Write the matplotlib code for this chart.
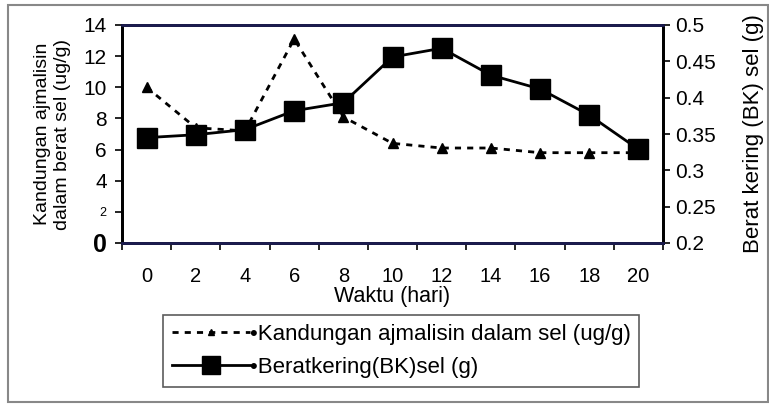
import matplotlib.pyplot as plt
import numpy as np
from matplotlib.patches import Rectangle
from matplotlib.lines import Line2D

plt.rcParams['font.family'] = ['Liberation Sans', 'DejaVu Sans']

# data
hari = ['0', '2', '4', '6', '8', '10', '12', '14', '16', '18', '20']
ajmalisin = [10.0, 7.4, 7.2, 13.1, 8.1, 6.4, 6.1, 6.1, 5.8, 5.8, 5.8]
berat_kering = [0.345, 0.349, 0.356, 0.382, 0.393, 0.456, 0.468, 0.431, 0.412, 0.376, 0.329]

kiri_ticks = [0, 2, 4, 6, 8, 10, 12, 14]
kanan_ticks = [0.2, 0.25, 0.3, 0.35, 0.4, 0.45, 0.5]
kanan_labels = ['0.2', '0.25', '0.3', '0.35', '0.4', '0.45', '0.5']

fig = plt.figure(figsize=(7.69, 4.04), dpi=100)
ax = fig.add_axes([122/769, 1-243/404, (663-122)/769, (243-25)/404])
ax2 = ax.twinx()

x = np.arange(len(hari))
ax.plot(x, ajmalisin, color='black', linestyle=(0, (2.2, 2.2)), linewidth=2,
        marker='^', markersize=7, zorder=3)
ax2.plot(x, berat_kering, color='black', linestyle='-', linewidth=2,
         marker='s', markersize=14, zorder=3)

ax.set_xlim(-0.5, len(hari) - 0.5)
ax.set_ylim(0, 14)
ax2.set_ylim(0.2, 0.5)

# category axis: labels centred, tick marks between categories
ax.set_xticks(x)
ax.set_xticklabels(hari, fontsize=14.5)
ax.tick_params(axis='x', which='major', length=0, pad=17)
ax.set_xticks(np.arange(-0.5, len(hari)), minor=True)
ax.tick_params(axis='x', which='minor', length=5, width=1.2, direction='out')

ax.set_yticks(kiri_ticks)
ax.set_yticklabels([str(t) for t in kiri_ticks], fontsize=15)
ax.tick_params(axis='y', length=5, width=1.2, direction='out', pad=6)
lbls = ax.get_yticklabels()
lbls[0].set_fontweight('bold')
lbls[0].set_fontsize(18)
lbls[1].set_fontsize(9)

ax2.set_yticks(kanan_ticks)
ax2.set_yticklabels(kanan_labels, fontsize=15)
ax2.tick_params(axis='y', length=5, width=1.2, direction='out', pad=4)

for sp in ax.spines.values():
    sp.set_linewidth(2)
for sp in ax2.spines.values():
    sp.set_linewidth(2)
ax2.spines['top'].set_color('#1c1c50')
ax2.spines['bottom'].set_color('#1c1c50')

ax.set_xlabel('Waktu (hari)', fontsize=15.5, labelpad=0)
ax.set_ylabel('Kandungan ajmalisin\ndalam berat sel (ug/g)', fontsize=14,
              linespacing=1.2, labelpad=9)
ax2.set_ylabel('Berat kering (BK) sel (g)', fontsize=16, labelpad=19)

handles = [
    Line2D([], [], color='black', linestyle=(0, (2.2, 2.2)), linewidth=2,
           marker='^', markersize=5),
    Line2D([], [], color='black', linestyle='-', linewidth=2,
           marker='s', markersize=13),
]
labels = ['\u2022Kandungan ajmalisin dalam sel (ug/g)', '\u2022Beratkering(BK)sel (g)']
leg = fig.legend(handles, labels, loc='upper left',
                 bbox_to_anchor=(163/769, 1-315/404), fontsize=16,
                 frameon=True, fancybox=False, edgecolor='#333333',
                 handlelength=3.5, handletextpad=0.0, borderpad=0.4,
                 labelspacing=0.55, borderaxespad=0)
leg.get_frame().set_linewidth(1.2)

# outer chart border
fig.patches.append(Rectangle((8/769, 2/404), 760/769, 397/404,
                             transform=fig.transFigure, fill=False,
                             edgecolor='#888888', linewidth=1.5))

fig.savefig('out.png', dpi=100)
